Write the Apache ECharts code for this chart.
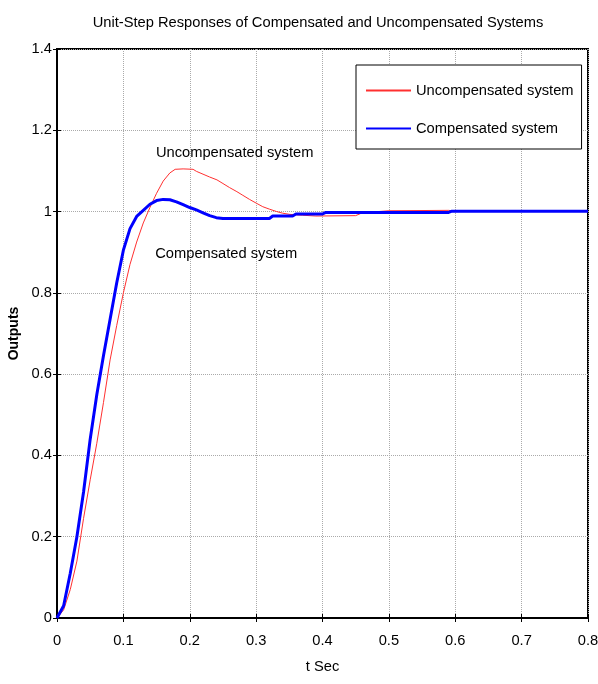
<!DOCTYPE html>
<html>
<head>
<meta charset="utf-8">
<script src="https://cdn.jsdelivr.net/npm/echarts@6/dist/echarts.min.js"></script>
<style>
html,body{margin:0;padding:0;background:#fff;}
#chart{width:598px;height:684px;}
</style>
</head>
<body>
<div id="chart"></div>
<script>
const titleText = 'Unit-Step Responses of Compensated and Uncompensated Systems';
const xTicks = [0, 0.1, 0.2, 0.3, 0.4, 0.5, 0.6, 0.7, 0.8];
const yTicks = [0, 0.2, 0.4, 0.6, 0.8, 1, 1.2, 1.4];
const seriesNames = ['Uncompensated system', 'Compensated system'];

const uncompensated = [
  [0,0],[0.01,0.02],[0.02,0.07],[0.03,0.14],[0.04,0.245],[0.05,0.34],[0.06,0.43],
  [0.07,0.53],[0.08,0.635],[0.09,0.72],[0.10,0.80],[0.11,0.87],[0.12,0.925],
  [0.13,0.972],[0.14,1.01],[0.15,1.045],[0.16,1.075],[0.17,1.095],[0.178,1.104],
  [0.19,1.105],[0.205,1.104],[0.21,1.099],[0.22,1.092],[0.23,1.085],[0.241,1.078],
  [0.25,1.069],[0.26,1.059],[0.271,1.049],[0.28,1.040],[0.29,1.030],[0.301,1.020],
  [0.31,1.012],[0.32,1.006],[0.331,1.000],[0.34,0.996],[0.351,0.993],[0.37,0.991],
  [0.39,0.989],[0.45,0.990],[0.46,0.997],[0.50,1.002],[0.59,1.003],[0.60,1.001],[0.8,1.0]
];

const compensated = [
  [0,0],[0.01,0.03],[0.02,0.11],[0.03,0.20],[0.04,0.31],[0.05,0.44],[0.06,0.55],
  [0.07,0.645],[0.08,0.735],[0.09,0.825],[0.10,0.905],[0.11,0.958],[0.12,0.988],
  [0.13,1.003],[0.14,1.018],[0.15,1.027],[0.16,1.030],[0.17,1.029],[0.18,1.024],
  [0.19,1.017],[0.20,1.010],[0.21,1.004],[0.22,0.997],[0.23,0.990],[0.24,0.985],
  [0.25,0.983],[0.32,0.983],[0.325,0.989],[0.355,0.989],[0.36,0.994],[0.40,0.994],
  [0.405,0.998],[0.59,0.998],[0.595,1.001],[0.8,1.001]
];

const notes = [
  {text:'Uncompensated system', pos:[0.149, 1.144]},
  {text:'Compensated system', pos:[0.148, 0.896]}
];

const font = '"Liberation Sans",Arial,sans-serif';
const fs = 14.7;

const chart = echarts.init(document.getElementById('chart'));
const axisCommon = {
  axisLine:{show:true, lineStyle:{color:'#000', width:2}},
  axisTick:{show:true, inside:true, length:4, lineStyle:{color:'#000', width:1}}
};
chart.setOption({
  animation:false,
  backgroundColor:'#fff',
  title:{text:titleText, left:318, top:15, textAlign:'center', padding:0,
    textStyle:{fontFamily:font, fontSize:fs, fontWeight:'normal', color:'#000'}},
  grid:{left:57, top:49, width:531, height:569, show:true, borderColor:'#000', borderWidth:2,
    outerBoundsMode:'none', containLabel:false},
  legend:{
    data:seriesNames, orient:'vertical', left:356, top:65,
    itemWidth:45, itemHeight:14, itemGap:23,
    padding:[18,8,13,9], borderColor:'#000', borderWidth:1, backgroundColor:'#fff',
    itemStyle:{opacity:0},
    textStyle:{fontFamily:font, fontSize:fs, color:'#000'}
  },
  xAxis:[
    Object.assign({type:'value', min:0, max:0.8, interval:0.1,
      name:'t Sec', nameLocation:'middle', nameGap:41,
      nameTextStyle:{fontFamily:font, fontSize:fs, color:'#000'},
      axisLabel:{fontFamily:font, fontSize:fs, color:'#000', margin:15,
        formatter:v=>String(xTicks.find(t=>Math.abs(t-v)<1e-6) ?? v)},
      splitLine:{show:true, lineStyle:{color:'#aaa', type:[1,1], width:1}}}, axisCommon),
    Object.assign({type:'value', min:0, max:0.8, interval:0.1, position:'top',
      axisLabel:{show:false}, splitLine:{show:false}}, axisCommon)
  ],
  yAxis:[
    Object.assign({type:'value', min:0, max:1.4, interval:0.2,
      name:'Outputs', nameLocation:'middle', nameGap:33,
      nameTextStyle:{fontFamily:font, fontSize:14, fontWeight:'bold', color:'#000'},
      axisLabel:{fontFamily:font, fontSize:fs, color:'#000', margin:5,
        formatter:v=>String(yTicks.find(t=>Math.abs(t-v)<1e-6) ?? v)},
      splitLine:{show:true, lineStyle:{color:'#aaa', type:[1,1], width:1}}}, axisCommon),
    Object.assign({type:'value', min:0, max:1.4, interval:0.2, position:'right',
      axisLabel:{show:false}, splitLine:{show:false}}, axisCommon)
  ],
  series:[
    {name:seriesNames[0], type:'line', data:uncompensated, symbol:'none',
      lineStyle:{color:'#ff3030', width:1}, itemStyle:{color:'#ff3030'}, z:3},
    {name:seriesNames[1], type:'line', data:compensated, symbol:'none',
      lineStyle:{color:'#0000ff', width:3}, itemStyle:{color:'#0000ff'}, z:4},
    {name:'notes', type:'scatter', symbolSize:0, silent:true,
      data:notes.map(n=>({value:n.pos, name:n.text})),
      itemStyle:{color:'#000'},
      label:{show:true, position:'right', distance:0, formatter:p=>p.name,
        fontFamily:font, fontSize:fs, color:'#000', opacity:1}}
  ]
});
</script>
</body>
</html>
